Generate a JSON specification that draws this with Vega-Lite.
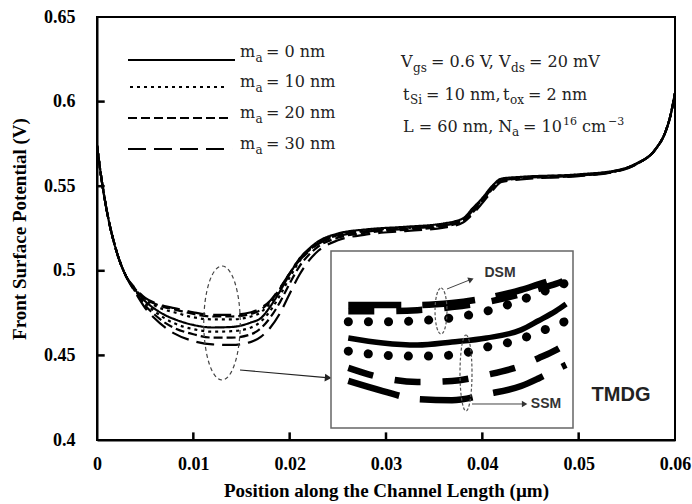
{
"$schema": "https://vega.github.io/schema/vega-lite/v6.json",
"width": 578, "height": 423,
"autosize": {"type": "none"},
"padding": {"left": 97, "top": 17, "right": 17, "bottom": 64},
"background": "white",
"config": {"view": {"stroke": "black", "strokeWidth": 2}},
"datasets": {
"main": [
{"x":0,"ma0":0.574,"ma10_DSM":0.574,"ma10_SSM":0.574,"ma20_DSM":0.574,"ma20_SSM":0.574,"ma30_DSM":0.574,"ma30_SSM":0.574},
{"x":0.0005,"ma0":0.553,"ma10_DSM":0.553,"ma10_SSM":0.553,"ma20_DSM":0.553,"ma20_SSM":0.553,"ma30_DSM":0.553,"ma30_SSM":0.553},
{"x":0.001,"ma0":0.536,"ma10_DSM":0.536,"ma10_SSM":0.536,"ma20_DSM":0.536,"ma20_SSM":0.536,"ma30_DSM":0.536,"ma30_SSM":0.536},
{"x":0.002,"ma0":0.512,"ma10_DSM":0.512,"ma10_SSM":0.512,"ma20_DSM":0.512,"ma20_SSM":0.512,"ma30_DSM":0.512,"ma30_SSM":0.512},
{"x":0.003,"ma0":0.497,"ma10_DSM":0.497,"ma10_SSM":0.497,"ma20_DSM":0.497,"ma20_SSM":0.497,"ma30_DSM":0.497,"ma30_SSM":0.497},
{"x":0.004,"ma0":0.4885,"ma10_DSM":0.489,"ma10_SSM":0.488,"ma20_DSM":0.489,"ma20_SSM":0.4875,"ma30_DSM":0.4895,"ma30_SSM":0.487},
{"x":0.005,"ma0":0.482,"ma10_DSM":0.483,"ma10_SSM":0.481,"ma20_DSM":0.4835,"ma20_SSM":0.4795,"ma30_DSM":0.484,"ma30_SSM":0.478},
{"x":0.006,"ma0":0.4775,"ma10_DSM":0.4795,"ma10_SSM":0.476,"ma20_DSM":0.4805,"ma20_SSM":0.474,"ma30_DSM":0.481,"ma30_SSM":0.4718},
{"x":0.007,"ma0":0.474,"ma10_DSM":0.477,"ma10_SSM":0.472,"ma20_DSM":0.4785,"ma20_SSM":0.4695,"ma30_DSM":0.4792,"ma30_SSM":0.4668},
{"x":0.008,"ma0":0.4715,"ma10_DSM":0.4755,"ma10_SSM":0.469,"ma20_DSM":0.4772,"ma20_SSM":0.4663,"ma30_DSM":0.478,"ma30_SSM":0.463},
{"x":0.01,"ma0":0.468,"ma10_DSM":0.4725,"ma10_SSM":0.4655,"ma20_DSM":0.4745,"ma20_SSM":0.4625,"ma30_DSM":0.4755,"ma30_SSM":0.4585},
{"x":0.012,"ma0":0.4665,"ma10_DSM":0.4713,"ma10_SSM":0.464,"ma20_DSM":0.473,"ma20_SSM":0.4605,"ma30_DSM":0.474,"ma30_SSM":0.4565},
{"x":0.014,"ma0":0.4668,"ma10_DSM":0.4713,"ma10_SSM":0.4643,"ma20_DSM":0.473,"ma20_SSM":0.4605,"ma30_DSM":0.474,"ma30_SSM":0.4562},
{"x":0.016,"ma0":0.4695,"ma10_DSM":0.473,"ma10_SSM":0.4665,"ma20_DSM":0.4745,"ma20_SSM":0.4625,"ma30_DSM":0.4755,"ma30_SSM":0.458},
{"x":0.017,"ma0":0.472,"ma10_DSM":0.4755,"ma10_SSM":0.47,"ma20_DSM":0.477,"ma20_SSM":0.466,"ma30_DSM":0.478,"ma30_SSM":0.461},
{"x":0.018,"ma0":0.479,"ma10_DSM":0.481,"ma10_SSM":0.4765,"ma20_DSM":0.482,"ma20_SSM":0.4725,"ma30_DSM":0.4825,"ma30_SSM":0.4665},
{"x":0.019,"ma0":0.488,"ma10_DSM":0.489,"ma10_SSM":0.4855,"ma20_DSM":0.4895,"ma20_SSM":0.4815,"ma30_DSM":0.49,"ma30_SSM":0.475},
{"x":0.02,"ma0":0.498,"ma10_DSM":0.4985,"ma10_SSM":0.496,"ma20_DSM":0.4985,"ma20_SSM":0.4925,"ma30_DSM":0.4985,"ma30_SSM":0.4865},
{"x":0.021,"ma0":0.507,"ma10_DSM":0.507,"ma10_SSM":0.5055,"ma20_DSM":0.5065,"ma20_SSM":0.5025,"ma30_DSM":0.506,"ma30_SSM":0.4975},
{"x":0.022,"ma0":0.513,"ma10_DSM":0.5125,"ma10_SSM":0.512,"ma20_DSM":0.512,"ma20_SSM":0.5095,"ma30_DSM":0.5115,"ma30_SSM":0.506},
{"x":0.023,"ma0":0.5175,"ma10_DSM":0.517,"ma10_SSM":0.5165,"ma20_DSM":0.5165,"ma20_SSM":0.5145,"ma30_DSM":0.516,"ma30_SSM":0.512},
{"x":0.025,"ma0":0.522,"ma10_DSM":0.5215,"ma10_SSM":0.521,"ma20_DSM":0.521,"ma20_SSM":0.5195,"ma30_DSM":0.5205,"ma30_SSM":0.518},
{"x":0.028,"ma0":0.5245,"ma10_DSM":0.524,"ma10_SSM":0.5237,"ma20_DSM":0.5235,"ma20_SSM":0.5225,"ma30_DSM":0.5232,"ma30_SSM":0.5215},
{"x":0.032,"ma0":0.526,"ma10_DSM":0.5255,"ma10_SSM":0.5252,"ma20_DSM":0.525,"ma20_SSM":0.5242,"ma30_DSM":0.5248,"ma30_SSM":0.5235},
{"x":0.036,"ma0":0.528,"ma10_DSM":0.5275,"ma10_SSM":0.5272,"ma20_DSM":0.527,"ma20_SSM":0.5262,"ma30_DSM":0.5268,"ma30_SSM":0.5255},
{"x":0.038,"ma0":0.531,"ma10_DSM":0.5305,"ma10_SSM":0.5302,"ma20_DSM":0.53,"ma20_SSM":0.5292,"ma30_DSM":0.5298,"ma30_SSM":0.5285},
{"x":0.039,"ma0":0.537,"ma10_DSM":0.5365,"ma10_SSM":0.536,"ma20_DSM":0.536,"ma20_SSM":0.5345,"ma30_DSM":0.5355,"ma30_SSM":0.5335},
{"x":0.04,"ma0":0.543,"ma10_DSM":0.5425,"ma10_SSM":0.542,"ma20_DSM":0.542,"ma20_SSM":0.541,"ma30_DSM":0.5415,"ma30_SSM":0.54},
{"x":0.041,"ma0":0.55,"ma10_DSM":0.5495,"ma10_SSM":0.549,"ma20_DSM":0.549,"ma20_SSM":0.548,"ma30_DSM":0.5485,"ma30_SSM":0.547},
{"x":0.042,"ma0":0.5545,"ma10_DSM":0.554,"ma10_SSM":0.5535,"ma20_DSM":0.5535,"ma20_SSM":0.553,"ma30_DSM":0.5532,"ma30_SSM":0.5525},
{"x":0.044,"ma0":0.5555,"ma10_DSM":0.5553,"ma10_SSM":0.555,"ma20_DSM":0.555,"ma20_SSM":0.5545,"ma30_DSM":0.5548,"ma30_SSM":0.554},
{"x":0.05,"ma0":0.557,"ma10_DSM":0.5568,"ma10_SSM":0.5566,"ma20_DSM":0.5565,"ma20_SSM":0.5562,"ma30_DSM":0.5563,"ma30_SSM":0.556},
{"x":0.054,"ma0":0.5595,"ma10_DSM":0.5593,"ma10_SSM":0.5592,"ma20_DSM":0.5591,"ma20_SSM":0.559,"ma30_DSM":0.559,"ma30_SSM":0.5588},
{"x":0.056,"ma0":0.5635,"ma10_DSM":0.5633,"ma10_SSM":0.5632,"ma20_DSM":0.5632,"ma20_SSM":0.5631,"ma30_DSM":0.5631,"ma30_SSM":0.563},
{"x":0.058,"ma0":0.572,"ma10_DSM":0.572,"ma10_SSM":0.572,"ma20_DSM":0.572,"ma20_SSM":0.572,"ma30_DSM":0.572,"ma30_SSM":0.572},
{"x":0.059,"ma0":0.582,"ma10_DSM":0.582,"ma10_SSM":0.582,"ma20_DSM":0.582,"ma20_SSM":0.582,"ma30_DSM":0.582,"ma30_SSM":0.582},
{"x":0.0595,"ma0":0.591,"ma10_DSM":0.591,"ma10_SSM":0.591,"ma20_DSM":0.591,"ma20_SSM":0.591,"ma30_DSM":0.591,"ma30_SSM":0.591},
{"x":0.06,"ma0":0.605,"ma10_DSM":0.605,"ma10_SSM":0.605,"ma20_DSM":0.605,"ma20_SSM":0.605,"ma30_DSM":0.605,"ma30_SSM":0.605}
],
"inset": [
{"x":0.011,"ma0":0.4678,"ma10_DSM":0.4710,"ma10_SSM":0.4652,"ma20_DSM":0.4731,"ma20_SSM":0.4619,"ma30_DSM":0.4743,"ma30_SSM":0.4593},
{"x":0.012,"ma0":0.4668,"ma10_DSM":0.4710,"ma10_SSM":0.4644,"ma20_DSM":0.4731,"ma20_SSM":0.4599,"ma30_DSM":0.4743,"ma30_SSM":0.4573},
{"x":0.013,"ma0":0.4664,"ma10_DSM":0.4712,"ma10_SSM":0.4642,"ma20_DSM":0.4733,"ma20_SSM":0.4591,"ma30_DSM":0.4743,"ma30_SSM":0.4557},
{"x":0.014,"ma0":0.4670,"ma10_DSM":0.4718,"ma10_SSM":0.4644,"ma20_DSM":0.4739,"ma20_SSM":0.4593,"ma30_DSM":0.4747,"ma30_SSM":0.4555},
{"x":0.015,"ma0":0.4678,"ma10_DSM":0.4731,"ma10_SSM":0.4660,"ma20_DSM":0.4749,"ma20_SSM":0.4605,"ma30_DSM":0.4757,"ma30_SSM":0.4567},
{"x":0.016,"ma0":0.4694,"ma10_DSM":0.4753,"ma10_SSM":0.4676,"ma20_DSM":0.4765,"ma20_SSM":0.4623,"ma30_DSM":0.4773,"ma30_SSM":0.4583},
{"x":0.0165,"ma0":0.4712,"ma10_DSM":0.4766,"ma10_SSM":0.4690,"ma20_DSM":0.4775,"ma20_SSM":0.4638,"ma30_DSM":0.4784,"ma30_SSM":0.4598},
{"x":0.017,"ma0":0.4731,"ma10_DSM":0.4779,"ma10_SSM":0.4702,"ma20_DSM":0.4785,"ma20_SSM":0.4654,"ma30_DSM":0.4795,"ma30_SSM":0.4615},
{"x":0.0173,"ma0":0.4745,"ma10_DSM":0.4787,"ma10_SSM":0.4712,"ma20_DSM":0.4793,"ma20_SSM":0.4666,"ma30_DSM":0.4802,"ma30_SSM":0.4625}
],
"legend": [
{"key":"ma0","x":0.003218,"y":0.62459},{"key":"ma0","x":0.014326,"y":0.62459},
{"key":"ma10_DSM","x":0.003426,"y":0.60863},{"key":"ma10_DSM","x":0.013599,"y":0.60863},
{"key":"ma20_DSM","x":0.003218,"y":0.59031},{"key":"ma20_DSM","x":0.013807,"y":0.59031},
{"key":"ma30_DSM","x":0.003218,"y":0.57199},{"key":"ma30_DSM","x":0.014015,"y":0.57199}
],
"xticks": [{"x":0.01,"y":0.4,"y2":0.4045},{"x":0.02,"y":0.4,"y2":0.4045},{"x":0.03,"y":0.4,"y2":0.4045},{"x":0.04,"y":0.4,"y2":0.4045},{"x":0.05,"y":0.4,"y2":0.4045}],
"yticks": [{"x":0,"x2":0.0008,"y":0.45},{"x":0,"x2":0.0008,"y":0.5},{"x":0,"x2":0.0008,"y":0.55},{"x":0,"x2":0.0008,"y":0.6}],
"txt": [
{"x":0.014845,"y":0.626359,"t":"m"},{"x":0.017544,"y":0.626359,"t":"= 0 nm"},
{"x":0.014845,"y":0.608629,"t":"m"},{"x":0.017544,"y":0.608629,"t":"= 10 nm"},
{"x":0.014845,"y":0.590307,"t":"m"},{"x":0.017544,"y":0.590307,"t":"= 20 nm"},
{"x":0.014845,"y":0.571986,"t":"m"},{"x":0.017544,"y":0.571986,"t":"= 30 nm"},
{"x":0.031558,"y":0.620449,"t":"V"},{"x":0.034673,"y":0.620449,"t":"= 0.6 V,"},
{"x":0.041732,"y":0.620449,"t":"V"},{"x":0.044846,"y":0.620449,"t":"= 20 mV"},
{"x":0.031766,"y":0.600946,"t":"t"},{"x":0.034154,"y":0.600946,"t":"= 10 nm,"},
{"x":0.042147,"y":0.600946,"t":"t"},{"x":0.044742,"y":0.600946,"t":"= 2 nm"},
{"x":0.031766,"y":0.582033,"t":"L = 60 nm, N"},{"x":0.044223,"y":0.582033,"t":"= 10"},
{"x":0.050348,"y":0.582033,"t":"cm"}
],
"sub": [
{"x":0.016454,"y":0.623404,"t":"a"},{"x":0.016454,"y":0.605674,"t":"a"},
{"x":0.016454,"y":0.587352,"t":"a"},{"x":0.016454,"y":0.569031,"t":"a"},
{"x":0.032804,"y":0.617494,"t":"gs"},{"x":0.042978,"y":0.617494,"t":"ds"},
{"x":0.032493,"y":0.598582,"t":"Si"},{"x":0.042873,"y":0.598582,"t":"ox"},
{"x":0.043081,"y":0.579669,"t":"a"}
],
"sup": [
{"x":0.048375,"y":0.586170,"t":"16"},{"x":0.053047,"y":0.586170,"t":"−3"}
]
},
"layer": [
{
"encoding": {
"x": {"field": "x", "type": "quantitative", "scale": {"domain": [0, 0.06], "nice": false, "zero": false},
"axis": {"title": "Position along the Channel Length (µm)", "values": [0, 0.01, 0.02, 0.03, 0.04, 0.05, 0.06], "format": "~g", "grid": false,
"labelFont": "Liberation Serif", "labelFontSize": 18, "labelFontWeight": "bold", "labelColor": "black", "labelPadding": 15, "labelFlush": false, "labelOverlap": false,
"ticks": false, "domainColor": "black", "domainWidth": 2,
"titleFont": "Liberation Serif", "titleFontSize": 19, "titleFontWeight": "bold", "titleColor": "black", "titlePadding": 8}},
"y": {"field": "y", "type": "quantitative", "scale": {"domain": [0.4, 0.65], "nice": false, "zero": false},
"axis": {"title": "Front Surface Potential (V)", "values": [0.4, 0.45, 0.5, 0.55, 0.6, 0.65], "format": "~g", "grid": false,
"labelFont": "Liberation Serif", "labelFontSize": 18, "labelFontWeight": "bold", "labelColor": "black", "labelPadding": 22, "labelFlush": false, "labelOverlap": false,
"ticks": false, "domainColor": "black", "domainWidth": 2,
"titleFont": "Liberation Serif", "titleFontSize": 19, "titleFontWeight": "bold", "titleColor": "black", "titlePadding": 14}}
},
"layer": [
{
"data": {"name": "xticks"},
"mark": {"type": "rule", "color": "black", "strokeWidth": 2.5},
"encoding": {"y2": {"field": "y2"}}
},
{
"data": {"name": "yticks"},
"mark": {"type": "rule", "color": "black", "strokeWidth": 2.5},
"encoding": {"x2": {"field": "x2"}}
},
{
"data": {"name": "main"},
"transform": [{"fold": ["ma0", "ma10_DSM", "ma10_SSM", "ma20_DSM", "ma20_SSM", "ma30_DSM", "ma30_SSM"], "as": ["key", "y"]}],
"mark": {"type": "line", "color": "black", "strokeWidth": 2.2, "interpolate": "monotone"},
"encoding": {
"strokeDash": {"field": "key", "type": "nominal", "legend": null,
"scale": {"domain": ["ma0", "ma10_DSM", "ma10_SSM", "ma20_DSM", "ma20_SSM", "ma30_DSM", "ma30_SSM"],
"range": [[1, 0], [3, 4], [3, 4], [9, 4], [9, 4], [18, 8], [18, 8]]}}
}
},
{
"data": {"name": "legend"},
"mark": {"type": "line", "color": "black", "strokeWidth": 2},
"encoding": {"strokeDash": {"field": "key", "type": "nominal", "legend": null}}
},
{
"data": {"name": "txt"},
"mark": {"type": "text", "font": "DejaVu Serif", "fontSize": 16, "align": "left", "baseline": "alphabetic", "color": "#222"},
"encoding": {"text": {"field": "t"}}
},
{
"data": {"name": "sub"},
"mark": {"type": "text", "font": "DejaVu Serif", "fontSize": 12, "align": "left", "baseline": "alphabetic", "color": "#222"},
"encoding": {"text": {"field": "t"}}
},
{
"data": {"name": "sup"},
"mark": {"type": "text", "font": "DejaVu Serif", "fontSize": 11, "align": "left", "baseline": "alphabetic", "color": "#222"},
"encoding": {"text": {"field": "t"}}
},
{
"data": {"values": [{"x": 0.012976, "y": 0.469149}]},
"mark": {"type": "point", "shape": "M0,-1 C0.1767,-1 0.32,-0.5523 0.32,0 C0.32,0.5523 0.1767,1 0,1 C-0.1767,1 -0.32,0.5523 -0.32,0 C-0.32,-0.5523 -0.1767,-1 0,-1 Z", "size": 12996, "filled": false, "stroke": "#444", "strokeWidth": 1.2, "strokeDash": [4, 3], "opacity": 1}
},
{
"data": {"values": [{"x": 0.014845, "y": 0.441371}, {"x": 0.0238, "y": 0.43685}]},
"mark": {"type": "line", "color": "#222", "strokeWidth": 1.2}
},
{
"data": {"values": [{"x": 0.0240, "y": 0.43675}]},
"mark": {"type": "point", "shape": "triangle-right", "size": 60, "filled": true, "color": "#222", "angle": 5, "opacity": 1}
},
{
"data": {"values": [{"x": 0.054396, "y": 0.426359, "t": "TMDG"}]},
"mark": {"type": "text", "font": "Liberation Sans", "fontWeight": "bold", "fontSize": 20, "align": "center", "baseline": "middle", "color": "#222"},
"encoding": {"text": {"field": "t"}}
}
]
},
{
"encoding": {
"x": {"field": "x", "type": "quantitative", "scale": {"domain": [0.0105, 0.0175], "range": [234, 476], "nice": false, "zero": false}, "axis": null},
"y": {"field": "y", "type": "quantitative", "scale": {"domain": [0.45, 0.485], "range": [411, 234], "nice": false, "zero": false}, "axis": null}
},
"layer": [
{
"data": {"values": [{"x": 0.0105, "x2": 0.0175, "y": 0.45, "y2": 0.485}]},
"mark": {"type": "rect", "fill": "white", "stroke": "#666", "strokeWidth": 1.5},
"encoding": {"x2": {"field": "x2"}, "y2": {"field": "y2"}}
},
{
"data": {"name": "inset"},
"transform": [{"fold": ["ma0"], "as": ["key", "y"]}],
"mark": {"type": "line", "color": "black", "strokeWidth": 5.5, "interpolate": "monotone"}
},
{
"data": {"name": "inset"},
"transform": [{"fold": ["ma10_DSM", "ma10_SSM"], "as": ["key", "y"]}],
"mark": {"type": "line", "color": "black", "strokeWidth": 9, "strokeCap": "round", "strokeDash": [0.1, 20], "interpolate": "monotone"},
"encoding": {"detail": {"field": "key"}}
},
{
"data": {"name": "inset"},
"transform": [{"fold": ["ma20_DSM", "ma20_SSM"], "as": ["key", "y"]}],
"mark": {"type": "line", "color": "black", "strokeWidth": 6.5, "strokeDash": [26, 22], "interpolate": "monotone"},
"encoding": {"detail": {"field": "key"}}
},
{
"data": {"name": "inset"},
"transform": [{"fold": ["ma30_DSM", "ma30_SSM"], "as": ["key", "y"]}],
"mark": {"type": "line", "color": "black", "strokeWidth": 6.5, "strokeDash": [53, 21], "interpolate": "monotone"},
"encoding": {"detail": {"field": "key"}}
},
{
"data": {"values": [{"x": 0.013682, "y": 0.473136}]},
"mark": {"type": "point", "shape": "M0,-1 C0.1436,-1 0.26,-0.5523 0.26,0 C0.26,0.5523 0.1436,1 0,1 C-0.1436,1 -0.26,0.5523 -0.26,0 C-0.26,-0.5523 -0.1436,-1 0,-1 Z", "size": 2116, "filled": false, "stroke": "#555", "strokeWidth": 1.2, "strokeDash": [3, 2], "opacity": 1}
},
{
"data": {"values": [{"x": 0.014405, "y": 0.460876}]},
"mark": {"type": "point", "shape": "M0,-1 C0.0873,-1 0.158,-0.5523 0.158,0 C0.158,0.5523 0.0873,1 0,1 C-0.0873,1 -0.158,0.5523 -0.158,0 C-0.158,-0.5523 -0.0873,-1 0,-1 Z", "size": 5776, "filled": false, "stroke": "#555", "strokeWidth": 1.2, "strokeDash": [3, 2], "opacity": 1}
},
{
"data": {"values": [{"x": 0.013855, "y": 0.477487}, {"x": 0.01450, "y": 0.47925}]},
"mark": {"type": "line", "color": "#444", "strokeWidth": 1}
},
{
"data": {"values": [{"x": 0.01455, "y": 0.47937}]},
"mark": {"type": "point", "shape": "triangle-right", "size": 40, "filled": true, "color": "#333", "angle": -22, "opacity": 1}
},
{
"data": {"values": [{"x": 0.014579, "y": 0.454746}, {"x": 0.01605, "y": 0.454746}]},
"mark": {"type": "line", "color": "#444", "strokeWidth": 1}
},
{
"data": {"values": [{"x": 0.01610, "y": 0.454746}]},
"mark": {"type": "point", "shape": "triangle-right", "size": 40, "filled": true, "color": "#333", "opacity": 1}
},
{
"data": {"values": [{"x": 0.015389, "y": 0.48065, "t": "DSM"}, {"x": 0.016719, "y": 0.454746, "t": "SSM"}]},
"mark": {"type": "text", "font": "Liberation Sans", "fontWeight": "bold", "fontSize": 14, "align": "center", "baseline": "middle", "color": "#333"},
"encoding": {"text": {"field": "t"}}
}
]
}
],
"resolve": {"scale": {"x": "independent", "y": "independent", "strokeDash": "independent"}}
}
